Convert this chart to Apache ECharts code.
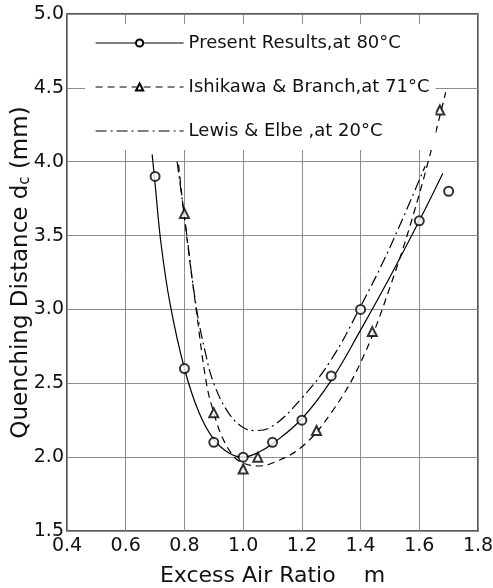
<!DOCTYPE html>
<html>
<head>
<meta charset="utf-8">
<script src="https://cdn.jsdelivr.net/npm/echarts@6/dist/echarts.min.js"></script>
<style>
html, body { margin: 0; padding: 0; background: #fff; }
#chart { width: 493px; height: 588px; }
</style>
</head>
<body>
<div id="chart"></div>
<script>
// measured points
var presentX = [0.7, 0.8, 0.9, 1.0, 1.1, 1.2, 1.3, 1.4, 1.6, 1.7];
var presentY = [3.9, 2.6, 2.1, 2.0, 2.1, 2.25, 2.55, 3.0, 3.6, 3.8];
var ishikawaX = [0.8, 0.9, 1.0, 1.05, 1.25, 1.44, 1.67];
var ishikawaY = [3.65, 2.3, 1.92, 2.0, 2.18, 2.85, 4.35];

// fitted curves as drawn
var presentCurveX = [0.69, 0.7, 0.72, 0.75, 0.8, 0.85, 0.9, 0.95, 1.0, 1.05, 1.1, 1.2, 1.3, 1.4, 1.5, 1.6, 1.68];
var presentCurveY = [4.05, 3.85, 3.45, 3.05, 2.6, 2.3, 2.12, 2.03, 2.0, 2.03, 2.09, 2.26, 2.52, 2.86, 3.22, 3.6, 3.92];
var ishikawaCurveX = [0.78, 0.8, 0.84, 0.875, 0.9, 0.93, 0.97, 1.0, 1.05, 1.1, 1.2, 1.3, 1.4, 1.5, 1.6, 1.69];
var ishikawaCurveY = [3.98, 3.62, 3.0, 2.5, 2.3, 2.13, 2.0, 1.96, 1.94, 1.96, 2.07, 2.3, 2.64, 3.15, 3.78, 4.47];
var lewisCurveX = [0.775, 0.8, 0.84, 0.87, 0.9, 0.95, 1.0, 1.04, 1.1, 1.2, 1.3, 1.4, 1.5, 1.62];
var lewisCurveY = [4.0, 3.63, 3.02, 2.72, 2.5, 2.3, 2.2, 2.18, 2.21, 2.4, 2.66, 3.02, 3.42, 3.97];

var names = ['Present Results,at 80°C', 'Ishikawa & Branch,at 71°C', 'Lewis & Elbe ,at 20°C'];

function pairs(xs, ys) {
    var out = [];
    for (var i = 0; i < xs.length; i++) out.push([xs[i], ys[i]]);
    return out;
}

var font = 'DejaVu Sans';
var chart = echarts.init(document.getElementById('chart'));
var option = {
    animation: false,
    grid: {
        left: 67, right: 15, top: 14, bottom: 57,
        containLabel: false,
        outerBoundsMode: 'none',
        show: true, borderColor: '#222', borderWidth: 1.5
    },
    legend: {
        orient: 'vertical',
        left: 85,
        top: 24,
        padding: [10, 6, 10, 10],
        backgroundColor: '#fff',
        itemWidth: 88,
        itemHeight: 9,
        itemGap: 26,
        selectedMode: false,
        textStyle: { fontFamily: font, fontSize: 18, color: '#111' },
        lineStyle: { width: 1.2 },
        data: [
            { name: names[0] },
            { name: names[1] },
            { name: names[2], itemStyle: { opacity: 0 } }
        ]
    },
    xAxis: {
        type: 'value',
        min: 0.4, max: 1.8, interval: 0.2,
        name: 'Excess Air Ratio    m',
        nameLocation: 'middle',
        nameGap: 34,
        nameTextStyle: { fontFamily: font, fontSize: 22, color: '#111' },
        axisLine: { show: false },
        axisTick: { show: false },
        axisLabel: {
            fontFamily: font, fontSize: 19, color: '#111', margin: 6,
            formatter: function (v) { return v.toFixed(1); }
        },
        splitLine: { lineStyle: { color: '#8c8c8c', width: 1 } }
    },
    yAxis: {
        type: 'value',
        min: 1.5, max: 5.0, interval: 0.5,
        name: 'Quenching Distance d{s|c} (mm)',
        nameLocation: 'middle',
        nameGap: 34,
        nameMoveOverlap: false,
        nameTextStyle: {
            fontFamily: font, fontSize: 23, color: '#111',
            rich: { s: { fontFamily: font, fontSize: 15, color: '#111', verticalAlign: 'bottom', padding: [9, 0, 0, 0] } }
        },
        axisLine: { show: false },
        axisTick: { show: false },
        axisLabel: {
            fontFamily: font, fontSize: 19, color: '#111', margin: 3,
            formatter: function (v) { return v.toFixed(1); }
        },
        splitLine: { lineStyle: { color: '#8c8c8c', width: 1 } }
    },
    series: [
        {
            name: names[0], type: 'line', smooth: 0.4,
            symbol: 'emptyCircle', showSymbol: false,
            itemStyle: { color: '#000' },
            lineStyle: { color: '#000', width: 1.2, type: 'solid' },
            data: pairs(presentCurveX, presentCurveY), z: 2
        },
        {
            name: names[1], type: 'line', smooth: 0.4,
            symbol: 'emptyTriangle', showSymbol: false,
            itemStyle: { color: '#000' },
            lineStyle: { color: '#000', width: 1.2, type: [7, 5] },
            data: pairs(ishikawaCurveX, ishikawaCurveY), z: 2
        },
        {
            name: names[2], type: 'line', smooth: 0.4,
            symbol: 'emptyCircle', showSymbol: false,
            itemStyle: { color: '#000' },
            lineStyle: { color: '#000', width: 1.2, type: [11, 4, 2, 4] },
            data: pairs(lewisCurveX, lewisCurveY), z: 2
        },
        {
            name: 'present points', type: 'scatter',
            symbol: 'emptyCircle', symbolSize: 9,
            itemStyle: { color: '#000', borderWidth: 1 },
            data: pairs(presentX, presentY), z: 3
        },
        {
            name: 'ishikawa points', type: 'scatter',
            symbol: 'emptyTriangle', symbolSize: 9,
            itemStyle: { color: '#000', borderWidth: 1 },
            data: pairs(ishikawaX, ishikawaY), z: 3
        }
    ]
};
chart.setOption(option);
</script>
</body>
</html>
